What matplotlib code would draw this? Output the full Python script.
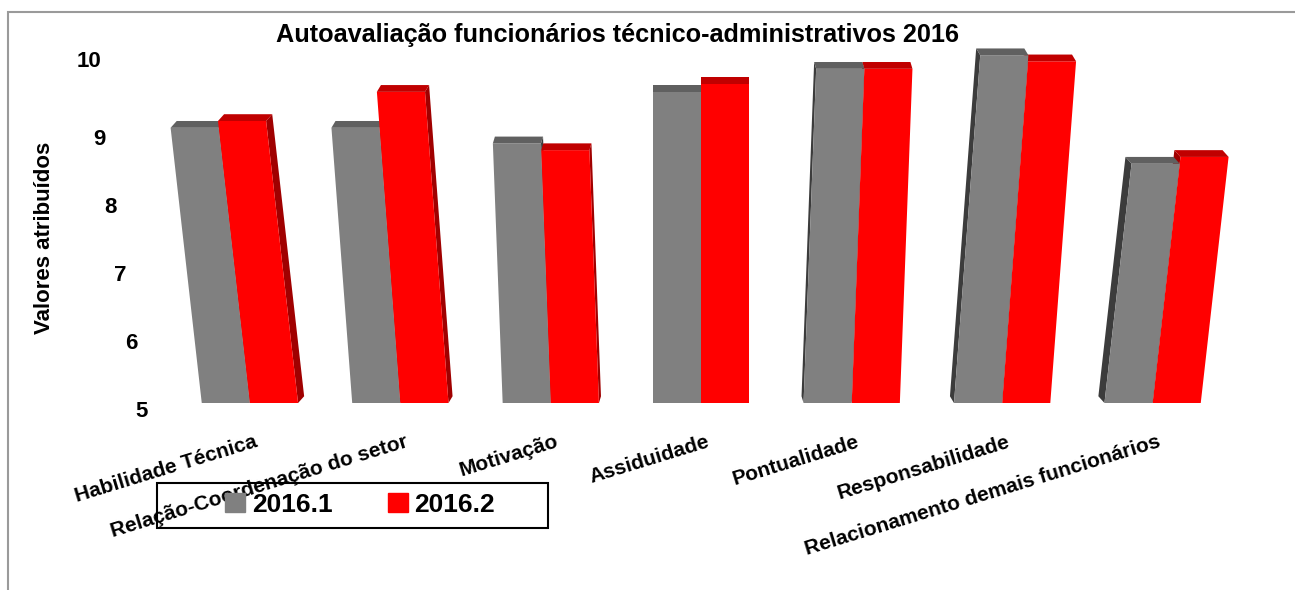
import matplotlib
matplotlib.use("Agg")
from matplotlib import pyplot as plt
from matplotlib.patches import Rectangle, Patch

# data
categorias = ["Habilidade Técnica", "Relação-Coordenação do setor", "Motivação",
              "Assiduidade", "Pontualidade", "Responsabilidade",
              "Relacionamento demais funcionários"]
sem1 = [9.06, 9.06, 8.83, 9.59, 9.93, 10.13, 8.53]   # 2016.1
sem2 = [9.16, 9.59, 8.73, 9.71, 9.93, 10.04, 8.63]   # 2016.2
ticks = [5, 6, 7, 8, 9, 10]

plt.rcParams['font.family'] = ['Liberation Sans', 'DejaVu Sans']
plt.rcParams['font.weight'] = 'bold'

fig = plt.figure(figsize=(12.95, 5.9), dpi=100)
ax = fig.add_axes([0.0768, 0.3169, 0.9178, 0.6435])
ax.set_xlim(-1.0, 6.9)
ax.set_ylim(5, 10.6)
ax.axis('off')

# fake 3D look: front face, top face and side face
largura = 0.32
centro = 3.0
inclina = 0.017
prof_y = 0.10
prof_x = 0.0135

cores = [("#808080", "#606060", "#3c3c3c"), ("#ff0000", "#c00000", "#a00000")]
series = [sem1, sem2]


def desenha_barra(i, s, v):
    frente, topo, lado = cores[s]
    x0 = i - largura + s * largura
    x1 = x0 + largura
    sh = inclina * (i - centro) * (v - 5)
    dx = -prof_x * (i - centro)
    dy = prof_y
    # side face
    if dx != 0:
        xe = x1 if dx > 0 else x0
        ax.fill([xe, xe + sh, xe + sh + dx, xe + dx],
                [5, v, v + dy, 5 + dy], color=lado, lw=0)
    # front
    ax.fill([x0, x1, x1 + sh, x0 + sh], [5, 5, v, v], color=frente, lw=0)
    # top
    ax.fill([x0 + sh, x1 + sh, x1 + sh + dx, x0 + sh + dx],
            [v, v, v + dy, v + dy], color=topo, lw=0)


for i in range(len(categorias)):
    ordem = [0, 1] if i <= centro else [1, 0]
    for s in ordem:
        desenha_barra(i, s, series[s][i])

# y tick labels sit on the slanted back wall
for t in ticks:
    ax.text(-0.72 - 0.07 * (t - 5), t - (0.12 if t < 10 else -0.04), str(t),
            ha='center', va='center', fontsize=16, fontweight='bold')

# category labels
for i, nome in enumerate(categorias):
    ax.text(i + 0.03, 4.57, nome, rotation=17, rotation_mode='anchor',
            ha='right', va='top', fontsize=15, fontweight='bold')

fig.text(45 / 1295, 1 - 238 / 590, "Valores atribuídos", rotation=90,
         ha='center', va='center', fontsize=16, fontweight='bold')

fig.text(617 / 1295, 1 - 35 / 590,
         "Autoavaliação funcionários técnico-administrativos 2016",
         ha='center', va='center', fontsize=18.2, fontweight='bold')

# legend box
fig.add_artist(Rectangle((157 / 1295, 1 - 528 / 590), 391 / 1295, 45 / 590,
                         transform=fig.transFigure, fill=False,
                         edgecolor='black', lw=1.5))
alcas = [Patch(color=cores[0][0], label="2016.1"),
         Patch(color=cores[1][0], label="2016.2")]
fig.legend(handles=alcas, loc='center', bbox_to_anchor=(360 / 1295, 1 - 505 / 590),
           ncol=2, frameon=False, fontsize=19, handlelength=0.75,
           handleheight=0.75, handletextpad=0.25, columnspacing=2.1)

# outer chart border
fig.add_artist(Rectangle((8 / 1295, -0.05), 1.1, 1.05 - 12 / 590,
                         transform=fig.transFigure, fill=False,
                         edgecolor='#9a9a9a', lw=1.5))

fig.savefig("out.png", dpi=100)
